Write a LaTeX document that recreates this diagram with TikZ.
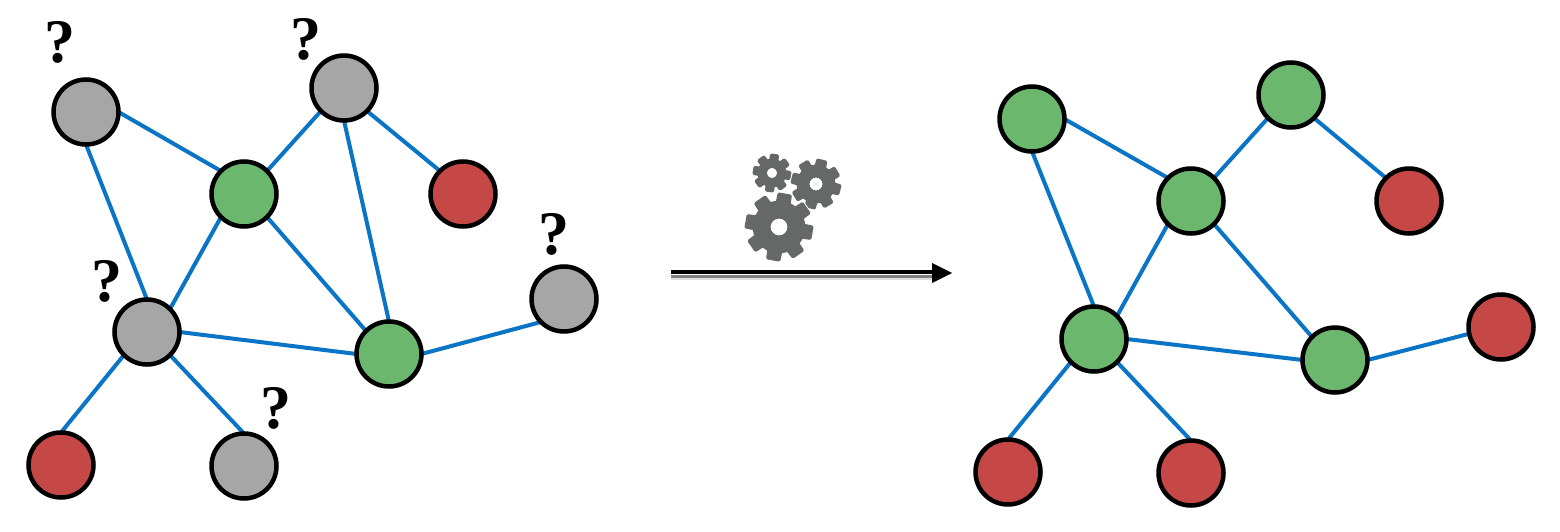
\documentclass[tikz,border=0pt]{standalone}
\usepackage{fontspec}
\setmainfont{Liberation Serif}
\usetikzlibrary{backgrounds}
\definecolor{ngray}{HTML}{A6A6A6}
\definecolor{ngreen}{HTML}{6AB76D}
\definecolor{nred}{HTML}{C64846}
\definecolor{eblue}{HTML}{0A74C6}
\definecolor{gearc}{HTML}{666868}
\newcommand{\gearpath}[6]{%
   \foreach \k in {0,...,7}{
     \ifnum\k=0 ({#1+#4*cos(#6+45*\k-14)},{#2+#4*sin(#6+45*\k-14)})\else
     -- ({#1+#4*cos(#6+45*\k-14)},{#2+#4*sin(#6+45*\k-14)})\fi
     -- ({#1+#3*cos(#6+45*\k-10)},{#2+#3*sin(#6+45*\k-10)})
     -- ({#1+#3*cos(#6+45*\k+10)},{#2+#3*sin(#6+45*\k+10)})
     -- ({#1+#4*cos(#6+45*\k+14)},{#2+#4*sin(#6+45*\k+14)})
   } -- cycle
   ({#1},{#2}) circle[radius=#5]
}
\newcommand{\gearshape}[6]{% x, y, outer, root, hole, rot
  \filldraw[white,line width=5pt,line join=round] \gearpath{#1}{#2}{#3}{#4}{#5}{#6};
  \filldraw[gearc,even odd rule,line width=3pt,line join=round] \gearpath{#1}{#2}{#3}{#4}{#5}{#6};
}
\tikzset{
  x=1pt,y=-1pt,
  vertex/.style={circle,draw=black,line width=4.5pt,minimum size=65pt,inner sep=0pt,outer sep=0pt},
  gv/.style={vertex,fill=ngray},
  gn/.style={vertex,fill=ngreen},
  rd/.style={vertex,fill=nred},
  edge/.style={eblue,line width=4pt},
  qm/.style={inner sep=0pt,font=\fontsize{62}{62}\selectfont\bfseries},
}
\begin{document}
\begin{tikzpicture}
\useasboundingbox (0,0) rectangle (1560,532);
% left graph
\node[gv] (la) at (86,112) {};
\node[gv] (lb) at (344,88) {};
\node[gn] (lc) at (244,194) {};
\node[rd] (ld) at (463,194) {};
\node[gv] (le) at (564,299) {};
\node[gv] (lf) at (147,332) {};
\node[gn] (lg) at (389,354) {};
\node[rd] (lh) at (61,465) {};
\node[gv] (li) at (244,466) {};
% right graph
\node[gn] (ra) at (1032,119) {};
\node[gn] (rb) at (1291,95) {};
\node[gn] (rc) at (1191,201) {};
\node[rd] (rd) at (1409,201) {};
\node[rd] (re) at (1501,327) {};
\node[gn] (rf) at (1094,339) {};
\node[gn] (rg) at (1335,360) {};
\node[rd] (rh) at (1008,472) {};
\node[rd] (ri) at (1191,473) {};
% edges
\begin{scope}[on background layer]
\foreach \p in {l,r}{
  \draw[edge] (\p a.east) -- (\p c.north west);
  \draw[edge] (\p a.south) -- (\p f.north);
  \draw[edge] (\p b.south west) -- (\p c.north east);
  \draw[edge] (\p b.south east) -- (\p d.north west);
  \draw[edge] (\p c.south west) -- (\p f.north east);
  \draw[edge] (\p c.south east) -- (\p g.north west);
  \draw[edge] (\p f.east) -- (\p g.west);
  \draw[edge] (\p f.south west) -- (\p h.north);
  \draw[edge] (\p f.south east) -- (\p i.north);
}
\draw[edge] (lb.south) -- (lg.north);
\draw[edge] (le.south west) -- (lg.east);
\draw[edge] (re.192) -- (rg.east);
\end{scope}
% question marks
\node[qm] (q1) at (60,42) {?};
\node[qm] (q2) at (306,39) {?};
\node[qm] (q3) at (554,234) {?};
\node[qm] (q4) at (107,281) {?};
\node[qm] (q5) at (276,408) {?};
% gears
\gearshape{772}{173}{18}{13}{6.5}{8}
\gearshape{816}{184}{24}{18}{8}{14}
\gearshape{779}{227}{33}{25}{10}{10}
% arrow
\coordinate (as) at (671,272);
\coordinate (ae) at (952,273);
\fill[black!12] (671,276.5) rectangle (935,280);
\fill[black!50] (671,275) rectangle (935,277.5);
\draw[black,line width=4pt] (as) -- (935,272);
\fill[black] (ae) -- (932,263) -- (932,283) -- cycle;
\end{tikzpicture}
\end{document}
